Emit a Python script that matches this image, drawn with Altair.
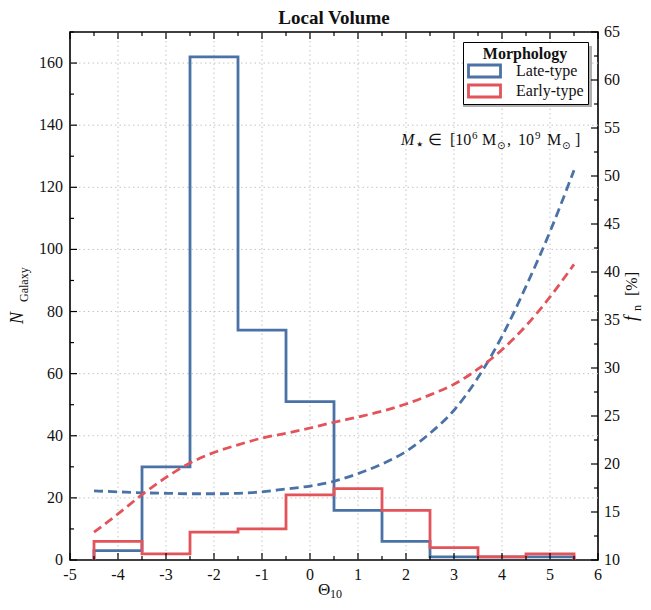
import altair as alt
import pandas as pd

# ---------------- data ----------------
bin_centers = [-4, -3, -2, -1, 0, 1, 2, 3, 4, 5]
late_counts = [3, 30, 162, 74, 51, 16, 6, 1, 1, 1]
early_counts = [6, 2, 9, 10, 21, 23, 16, 4, 1, 2]

curve_x = [-4.5, -4, -3.5, -3, -2.5, -2, -1.5, -1, -0.5, 0, 0.5,
           1, 1.5, 2, 2.5, 3, 3.5, 4, 4.5, 5, 5.5]
late_frac = [17.2, 17.1, 17.0, 16.95, 16.9, 16.9, 16.95, 17.1, 17.4, 17.7, 18.2,
             19.0, 20.0, 21.3, 23.2, 25.6, 29.0, 33.3, 38.5, 44.2, 50.6]
early_frac = [12.9, 14.8, 16.8, 18.6, 20.1, 21.2, 22.0, 22.7, 23.2, 23.75, 24.35,
              24.9, 25.5, 26.25, 27.2, 28.3, 29.9, 31.9, 34.4, 37.4, 40.8]

series_names = ["Late-type", "Early-type"]
series_colors = ["#4a72a6", "#e2535a"]

x_major = list(range(-5, 7))
x_minor = [v + 0.5 for v in range(-5, 6)]
yl_major = list(range(0, 171, 20))
yl_minor = list(range(10, 171, 20))
yr_major = list(range(10, 66, 5))
yr_minor = [v + 2.5 for v in range(10, 65, 5)]

W, H = 528, 528
FONT = "Liberation Serif"
INK = "#111111"


def outline(centers, counts, name):
    edges = [c - 0.5 for c in centers] + [centers[-1] + 0.5]
    xs = [edges[0]] + edges[:-1] + [edges[-1], edges[-1]]
    ys = [0] + list(counts) + [counts[-1], 0]
    return pd.DataFrame({"x": xs, "y": ys, "o": list(range(len(xs))), "type": name})


late_df = outline(bin_centers, late_counts, "Late-type")
early_df = outline(bin_centers, early_counts, "Early-type")
curve_late = pd.DataFrame({"x": curve_x, "f": late_frac, "type": "Late-type"})
curve_early = pd.DataFrame({"x": curve_x, "f": early_frac, "type": "Early-type"})

xscale = alt.Scale(domain=[-5, 6], nice=False, zero=False)
ylscale = alt.Scale(domain=[0, 170], nice=False, zero=False)
yrscale = alt.Scale(domain=[10, 65], nice=False, zero=False)
cscale = alt.Scale(domain=series_names, range=series_colors)

legend = alt.Legend(
    title="Morphology", orient="top-right", offset=10,
    symbolType="M-2,-0.75H2V0.75H-2Z", symbolSize=256, symbolStrokeWidth=2.8,
    symbolFillColor="white", symbolOffset=8, labelOffset=22,
    labelFontSize=16, titleFontSize=16, labelFont=FONT, titleFont=FONT,
    titleFontWeight="bold", titleAnchor="middle", titlePadding=0,
    clipHeight=18, fillColor="white", strokeColor="black",
    padding=4, rowPadding=2, labelColor=INK, titleColor=INK)


def hist_layer(df):
    return alt.Chart(df).mark_line(interpolate="step-after", strokeWidth=2.8,
                                   clip=True, strokeJoin="miter").encode(
        x=alt.X("x:Q", scale=xscale, axis=None),
        y=alt.Y("y:Q", scale=ylscale, axis=None),
        order="o:Q",
        color=alt.Color("type:N", scale=cscale, legend=legend),
    )


def tick_rules(values, channel, scale, side, length):
    df = pd.DataFrame({"v": values})
    c = alt.Chart(df).mark_rule(color="black", strokeWidth=1.2)
    if channel == "x":
        y0 = H if side == "bottom" else 0
        y1 = H - length if side == "bottom" else length
        return c.encode(x=alt.X("v:Q", scale=scale, axis=None),
                        y=alt.value(y0), y2=alt.value(y1))
    x0 = 0 if side == "left" else W
    x1 = length if side == "left" else W - length
    return c.encode(y=alt.Y("v:Q", scale=scale, axis=None),
                    x=alt.value(x0), x2=alt.value(x1))


def grid_rules(values, channel, scale):
    df = pd.DataFrame({"v": values})
    c = alt.Chart(df).mark_rule(color="#c4c4c4", strokeWidth=1, strokeDash=[1.5, 3])
    if channel == "x":
        return c.encode(x=alt.X("v:Q", scale=scale, axis=None),
                        y=alt.value(0), y2=alt.value(H))
    return c.encode(y=alt.Y("v:Q", scale=scale, axis=None),
                    x=alt.value(0), x2=alt.value(W))


def tick_labels(values, channel, scale, side):
    df = pd.DataFrame({"v": values, "t": [str(v) for v in values]})
    if channel == "x":
        return alt.Chart(df).mark_text(font=FONT, fontSize=16, color=INK,
                                       baseline="alphabetic", align="center").encode(
            x=alt.X("v:Q", scale=scale, axis=None), y=alt.value(H + 20), text="t:N")
    if side == "left":
        return alt.Chart(df).mark_text(font=FONT, fontSize=16, color=INK,
                                       baseline="middle", align="right").encode(
            y=alt.Y("v:Q", scale=scale, axis=None), x=alt.value(-7), text="t:N")
    return alt.Chart(df).mark_text(font=FONT, fontSize=16, color=INK,
                                   baseline="middle", align="left").encode(
        y=alt.Y("v:Q", scale=scale, axis=None), x=alt.value(W + 6), text="t:N")


shadow = alt.Chart(pd.DataFrame({"s": [0]})).mark_rect(color="#b0b0b0").encode(
    x=alt.value(393), x2=alt.value(522), y=alt.value(14), y2=alt.value(75))

left_group = alt.layer(
    grid_rules(x_major[1:-1], "x", xscale),
    grid_rules(yl_major[1:], "y", ylscale),
    shadow,
    hist_layer(late_df),
    hist_layer(early_df),
    tick_rules(x_major, "x", xscale, "bottom", 7),
    tick_rules(x_minor, "x", xscale, "bottom", 4),
    tick_rules(x_major, "x", xscale, "top", 7),
    tick_rules(x_minor, "x", xscale, "top", 4),
    tick_rules(yl_major, "y", ylscale, "left", 7),
    tick_rules(yl_minor, "y", ylscale, "left", 4),
    tick_labels(x_major, "x", xscale, "bottom"),
    tick_labels(yl_major, "y", ylscale, "left"),
)


def curve_layer(df):
    return alt.Chart(df).mark_line(interpolate="monotone", strokeWidth=2.8,
                                   strokeDash=[9, 5], clip=True).encode(
        x=alt.X("x:Q", scale=xscale, axis=None),
        y=alt.Y("f:Q", scale=yrscale, axis=None),
        color=alt.Color("type:N", scale=cscale, legend=None),
    )


right_group = alt.layer(
    curve_layer(curve_late),
    curve_layer(curve_early),
    tick_rules(yr_major, "y", yrscale, "right", 7),
    tick_rules(yr_minor, "y", yrscale, "right", 4),
    tick_labels(yr_major, "y", yrscale, "right"),
)


# ---------------- text (titles / annotation) ----------------
def text_at(s, x, y, size, style="normal", angle=0, align="left", font=FONT,
            weight="normal"):
    return alt.Chart(pd.DataFrame({"t": [s]})).mark_text(
        font=font, fontSize=size, fontStyle=style, fontWeight=weight, angle=angle,
        align=align, baseline="alphabetic", color=INK).encode(
        text="t:N", x=alt.value(x), y=alt.value(y))


AY = 113  # annotation baseline (plot coords)
texts = alt.layer(
    # chart title
    text_at("Local Volume", W / 2, -8, 19, align="center", weight="bold"),
    # left axis title  N_Galaxy
    text_at("N", -47, 292, 18, "italic", angle=270),
    text_at("Galaxy", -42, 270, 12, angle=270),
    # right axis title  f_n [%]
    text_at("f", 567, 289, 18, "italic", angle=270),
    text_at("n", 571, 279, 12, angle=270),
    text_at("[%]", 567, 264, 16, angle=270),
    # x axis title  Θ_10
    text_at("Θ", 248, 563, 17),
    text_at("10", 260, 566, 12),
    # annotation  M⋆ ∈ [10^6 M⊙, 10^9 M⊙]
    text_at("M", 331, AY, 16, "italic"),
    text_at("⋆", 345, AY + 4, 15, font="DejaVu Sans"),
    text_at("∈", 358, AY, 16),
    text_at("[10", 380, AY, 16),
    text_at("6", 402, AY - 6, 11),
    text_at("M", 412, AY, 16),
    text_at("⊙", 427, AY + 4, 10, font="DejaVu Sans"),
    text_at(",", 437, AY, 16),
    text_at("10", 448, AY, 16),
    text_at("9", 465, AY - 6, 11),
    text_at("M", 477, AY, 16),
    text_at("⊙", 492, AY + 4, 10, font="DejaVu Sans"),
    text_at("]", 505, AY, 16),
)

chart = alt.layer(left_group, right_group, texts).resolve_scale(
    y="independent"
).properties(
    width=W, height=H,
    padding={"left": 62, "top": 24, "right": 45, "bottom": 42},
    autosize=alt.AutoSizeParams(type="none"),
).configure_view(stroke="black", strokeWidth=1.6)

chart.save("out.html", embed_options={"renderer": "svg", "actions": False})
